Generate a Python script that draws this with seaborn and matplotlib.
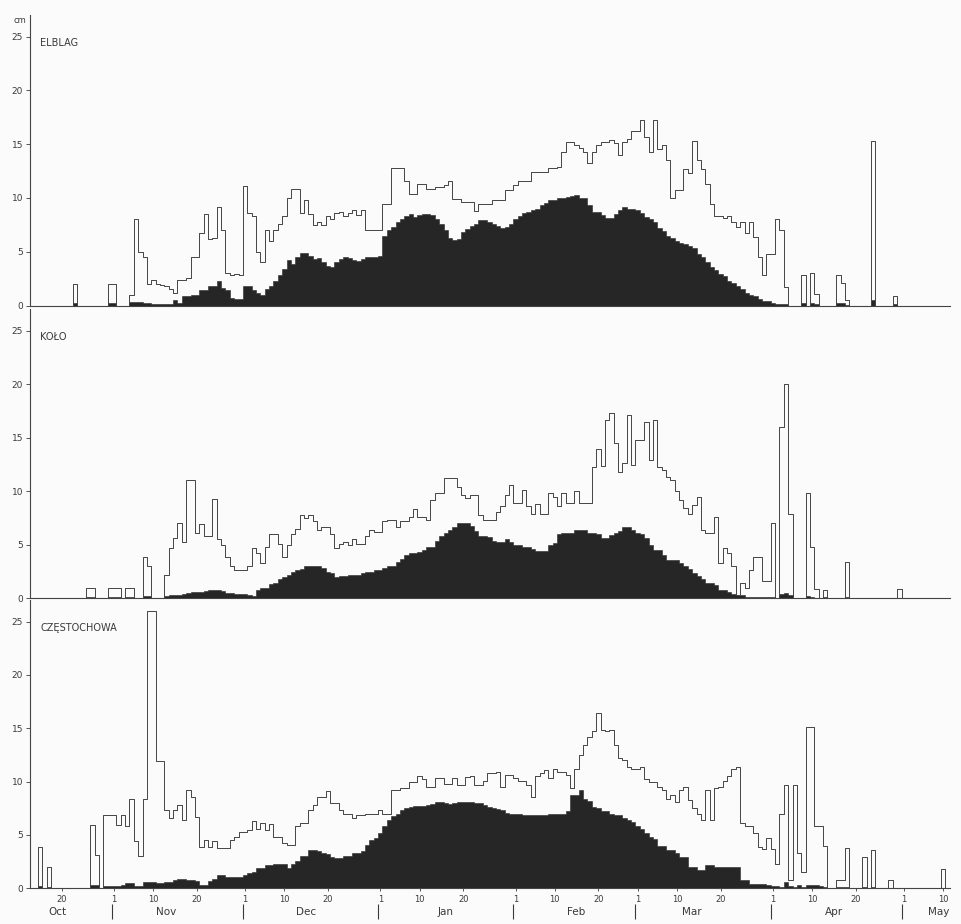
import numpy as np
import pandas as pd
import seaborn as sns
import matplotlib.pyplot as plt

sns.set_style("ticks")
plt.rcParams['font.family'] = ['DejaVu Sans']

# Day index: 0 = 1 October. Daily values from 13 Oct (12) to 11 May (222)
days = np.arange(12, 223)

stations = ["ELBLAG", "KOŁO", "CZĘSTOCHOWA"]

# Upper curve: mean thickness over days with snow cover (cm)
elblag_mean = [
    0, 0, 0, 0, 0, 0, 0, 0, 0, 0,
    2, 0, 0, 0, 0, 0, 0, 0, 2, 2,
    0, 0, 0, 1, 8, 5, 4.5, 2, 2.4, 2,
    1.9, 1.8, 1.5, 1.2, 2.4, 2.4, 2.6, 4.5, 4.5, 6.7,
    8.5, 6.2, 6.3, 9.2, 7, 3, 2.8, 2.9, 2.8, 11.1,
    8.6, 8.3, 5, 4, 7, 6, 7, 7.6, 8.3, 10,
    10.8, 10.8, 8.6, 9.8, 8.5, 7.5, 7.8, 7.5, 8.3, 8.0,
    8.6, 8.7, 8.3, 8.6, 8.9, 8.4, 8.9, 7.0, 7.0, 7.0,
    7.0, 9.4, 9.4, 12.8, 12.8, 12.8, 11.6, 10.4, 10.4, 11.3,
    11.3, 10.8, 10.8, 11.0, 11.0, 11.2, 11.6, 9.9, 9.9, 9.6,
    9.6, 9.6, 8.8, 9.4, 9.4, 9.4, 9.8, 9.8, 9.8, 10.7,
    10.7, 11.2, 11.6, 11.6, 11.6, 12.4, 12.4, 12.4, 12.4, 12.8,
    12.8, 12.9, 14.3, 15.2, 15.2, 14.9, 14.6, 14.3, 13.2, 14.3,
    14.9, 15.2, 15.2, 15.4, 15.1, 14.0, 15.2, 15.5, 16.2, 16.2,
    17.2, 15.7, 14.3, 17.2, 14.5, 14.9, 13.5, 10.0, 10.7, 10.7,
    12.7, 12.3, 15.3, 13.5, 12.7, 11.3, 9.4, 8.3, 8.3, 8.1,
    8.3, 7.8, 7.3, 7.8, 6.7, 7.8, 6.4, 4.5, 2.8, 4.8,
    4.8, 8.0, 7.0, 1.7, 0, 0, 0, 2.8, 0, 3.0,
    1.1, 0, 0, 0, 0, 2.8, 2.1, 0.5, 0, 0,
    0, 0, 0, 15.3, 0, 0, 0, 0, 0.9, 0,
    0, 0, 0, 0, 0, 0, 0, 0, 0, 0,
    0,
]
# Lower (black) curve: mean thickness over the whole period (cm)
elblag_all = [
    0, 0, 0, 0, 0, 0, 0, 0, 0, 0,
    0.2, 0, 0, 0, 0, 0, 0, 0, 0.2, 0.2,
    0, 0, 0, 0.3, 0.3, 0.3, 0.2, 0.2, 0.1, 0.1,
    0.1, 0.1, 0.1, 0.5, 0.2, 0.9, 0.9, 1.0, 1.0, 1.4,
    1.4, 1.8, 1.8, 2.3, 1.6, 1.4, 0.7, 0.6, 0.6, 1.8,
    1.8, 1.4, 1.2, 1.0, 1.5, 1.8, 2.3, 2.8, 3.4, 4.2,
    3.9, 4.5, 4.9, 4.9, 4.6, 4.3, 4.4, 4.0, 3.7, 3.6,
    4.0, 4.3, 4.5, 4.4, 4.2, 4.1, 4.3, 4.5, 4.5, 4.5,
    4.6, 6.5, 7.0, 7.3, 7.8, 8.0, 8.3, 8.5, 8.2, 8.4,
    8.5, 8.5, 8.4, 8.0, 7.6, 7.0, 6.3, 6.1, 6.2, 6.8,
    7.1, 7.4, 7.6, 7.9, 7.9, 7.8, 7.6, 7.4, 7.2, 7.3,
    7.6, 8.0, 8.3, 8.6, 8.7, 8.9, 9.0, 9.3, 9.5, 9.8,
    9.8, 10.0, 10.0, 10.1, 10.2, 10.3, 10.0, 10.0, 9.3, 8.7,
    8.7, 8.4, 8.1, 8.1, 8.5, 8.9, 9.2, 9.0, 9.0, 8.9,
    8.6, 8.2, 8.0, 7.8, 7.2, 6.9, 6.5, 6.3, 6.0, 5.8,
    5.7, 5.5, 5.3, 4.8, 4.5, 4.0, 3.6, 3.3, 2.9, 2.7,
    2.3, 2.1, 1.8, 1.5, 1.2, 1.0, 0.9, 0.6, 0.4, 0.4,
    0.2, 0.15, 0.1, 0.1, 0, 0, 0, 0.2, 0, 0.2,
    0.1, 0, 0, 0, 0, 0.2, 0.2, 0.05, 0, 0,
    0, 0, 0, 0.5, 0, 0, 0, 0, 0.1, 0,
    0, 0, 0, 0, 0, 0, 0, 0, 0, 0,
    0,
]

kolo_mean = [
    0, 0, 0, 0, 0, 0, 0, 0, 0, 0,
    0, 0, 0, 1, 1, 0, 0, 0, 1, 1,
    1, 0, 1, 1, 0, 0, 3.9, 3.0, 0, 0,
    0, 2.2, 4.7, 5.6, 7.0, 5.3, 11.1, 11.1, 6.1, 6.9,
    5.8, 5.8, 9.3, 5.5, 5.0, 3.9, 3.0, 2.6, 2.6, 2.6,
    3.0, 4.7, 4.2, 3.3, 4.8, 6.0, 6.0, 5.1, 3.9, 5.0,
    6.0, 6.5, 7.8, 7.5, 7.8, 7.2, 6.4, 6.7, 6.7, 6.0,
    4.7, 5.1, 5.3, 5.0, 5.5, 5.1, 5.1, 5.8, 6.4, 6.2,
    6.2, 7.2, 7.3, 7.3, 6.7, 7.2, 7.2, 7.6, 8.3, 7.6,
    7.6, 7.3, 9.2, 9.8, 9.8, 11.2, 11.2, 11.2, 10.4, 9.7,
    9.4, 9.7, 9.7, 7.8, 7.3, 7.3, 7.3, 8.1, 8.6, 9.7,
    10.6, 8.9, 8.9, 10.1, 8.6, 7.9, 8.8, 7.9, 7.9, 9.8,
    9.5, 8.6, 9.8, 8.9, 8.9, 10.0, 8.9, 8.9, 8.9, 12.3,
    14.0, 12.4, 16.7, 17.3, 14.5, 11.8, 12.6, 17.1, 12.5, 14.8,
    14.8, 16.5, 12.9, 16.7, 12.3, 12.0, 11.3, 11.1, 10.0, 9.2,
    8.4, 7.9, 8.7, 9.5, 6.4, 6.1, 6.1, 7.6, 3.3, 4.7,
    4.2, 3.0, 0.3, 1.4, 1.0, 2.6, 3.9, 3.9, 1.6, 1.6,
    7.0, 0, 16.0, 20.0, 7.9, 0, 0, 0, 9.8, 4.8,
    0.9, 0, 0.8, 0, 0, 0, 0, 3.4, 0, 0,
    0, 0, 0, 0, 0, 0, 0, 0, 0, 0.9,
    0, 0, 0, 0, 0, 0, 0, 0, 0, 0,
    0,
]
kolo_all = [
    0, 0, 0, 0, 0, 0, 0, 0, 0, 0,
    0, 0, 0, 0.1, 0.1, 0, 0, 0, 0.1, 0.1,
    0.1, 0, 0.1, 0.1, 0, 0, 0.2, 0.2, 0, 0,
    0, 0.2, 0.3, 0.3, 0.3, 0.4, 0.5, 0.6, 0.6, 0.6,
    0.7, 0.8, 0.8, 0.8, 0.7, 0.5, 0.5, 0.4, 0.4, 0.4,
    0.3, 0.2, 0.8, 1.0, 1.0, 1.3, 1.4, 1.8, 2.0, 2.2,
    2.5, 2.6, 2.7, 3.0, 3.0, 3.0, 3.0, 2.8, 2.5, 2.4,
    2.0, 2.1, 2.1, 2.2, 2.2, 2.2, 2.4, 2.5, 2.5, 2.6,
    2.6, 2.8, 3.0, 3.0, 3.4, 3.7, 4.0, 4.2, 4.2, 4.3,
    4.5, 4.8, 4.8, 5.4, 5.8, 6.1, 6.4, 6.7, 7.0, 7.0,
    7.0, 6.8, 6.3, 5.8, 5.8, 5.7, 5.4, 5.3, 5.3, 5.5,
    5.3, 5.0, 5.0, 4.8, 4.8, 4.6, 4.4, 4.4, 4.4, 5.0,
    5.2, 6.0, 6.1, 6.1, 6.1, 6.4, 6.4, 6.4, 6.1, 6.1,
    6.0, 5.6, 5.6, 5.9, 6.1, 6.3, 6.7, 6.7, 6.4, 6.1,
    6.0, 5.6, 5.0, 4.5, 4.5, 4.0, 3.6, 3.6, 3.6, 3.3,
    3.0, 2.7, 2.4, 2.1, 1.8, 1.4, 1.4, 1.2, 0.8, 0.8,
    0.6, 0.4, 0.3, 0.3, 0.15, 0.15, 0.15, 0.15, 0.15, 0.15,
    0.1, 0, 0.4, 0.5, 0.3, 0, 0, 0, 0.2, 0.1,
    0.05, 0, 0.1, 0, 0, 0, 0, 0.1, 0, 0,
    0, 0, 0, 0, 0, 0, 0, 0, 0, 0.05,
    0, 0, 0, 0, 0, 0, 0, 0, 0, 0,
    0,
]

czestochowa_mean = [
    0, 0, 3.9, 0, 2.0, 0, 0, 0, 0, 0,
    0, 0, 0, 0, 5.9, 3.1, 0, 6.9, 6.9, 6.9,
    5.9, 6.9, 5.8, 8.4, 4.4, 3.0, 8.4, 26.0, 26.0, 11.9,
    11.9, 7.3, 6.6, 7.3, 7.8, 6.4, 9.2, 8.6, 6.7, 3.9,
    4.5, 3.9, 4.4, 3.8, 3.8, 3.8, 4.5, 4.8, 5.3, 5.3,
    5.5, 6.3, 5.6, 6.1, 5.5, 6.0, 4.8, 4.8, 4.2, 4.1,
    4.1, 5.8, 6.1, 6.1, 7.3, 7.8, 8.6, 8.6, 9.1, 8.0,
    8.0, 7.3, 7.0, 7.0, 6.6, 6.9, 6.9, 7.0, 7.0, 7.0,
    7.3, 7.0, 7.0, 9.2, 9.2, 9.4, 9.4, 10.0, 10.0, 10.5,
    10.2, 9.5, 9.5, 10.3, 10.3, 9.8, 9.8, 10.3, 9.7, 9.7,
    10.4, 10.5, 9.7, 9.7, 10.1, 10.8, 10.8, 10.9, 9.5, 10.6,
    10.6, 10.3, 10.1, 10.1, 9.7, 8.6, 10.5, 10.8, 11.1, 10.3,
    11.2, 10.9, 10.9, 10.6, 9.4, 11.2, 12.5, 13.4, 14.2, 14.7,
    16.4, 14.8, 14.7, 14.8, 13.4, 12.2, 12.0, 11.4, 11.2, 11.2,
    11.4, 10.2, 10.0, 10.0, 9.5, 9.2, 8.4, 8.7, 8.1, 9.2,
    9.5, 8.3, 7.5, 7.0, 6.4, 9.2, 6.4, 9.4, 9.5, 10.1,
    10.5, 11.2, 11.4, 6.1, 5.8, 5.8, 5.2, 3.9, 3.7, 4.7,
    3.7, 2.3, 7.0, 9.7, 0.8, 9.7, 3.3, 1.5, 15.1, 15.1,
    5.8, 5.8, 4.0, 0, 0, 0.8, 0.8, 3.8, 0, 0,
    0, 2.9, 0, 3.6, 0, 0, 0, 0.8, 0, 0,
    0, 0, 0, 0, 0, 0, 0, 0, 0, 1.8,
    0,
]
czestochowa_all = [
    0, 0, 0.2, 0, 0.1, 0, 0, 0, 0, 0,
    0, 0, 0, 0, 0.3, 0.3, 0, 0.2, 0.2, 0.2,
    0.2, 0.3, 0.5, 0.5, 0.2, 0.2, 0.6, 0.6, 0.6, 0.5,
    0.5, 0.6, 0.6, 0.8, 0.9, 0.9, 0.8, 0.8, 0.7, 0.3,
    0.3, 0.7, 0.9, 1.2, 1.2, 1.1, 1.1, 1.1, 1.1, 1.2,
    1.4, 1.5, 1.9, 1.9, 2.2, 2.2, 2.3, 2.3, 2.3, 1.9,
    2.3, 2.6, 3.0, 3.0, 3.6, 3.6, 3.5, 3.3, 3.2, 2.9,
    2.8, 2.8, 3.0, 3.0, 3.3, 3.3, 3.5, 4.1, 4.5, 4.7,
    5.2, 5.8, 6.4, 6.8, 7.0, 7.3, 7.5, 7.6, 7.7, 7.7,
    7.7, 7.8, 7.9, 8.1, 8.1, 8.0, 7.9, 8.0, 8.1, 8.1,
    8.1, 8.1, 8.0, 8.0, 7.8, 7.6, 7.5, 7.4, 7.3, 7.1,
    7.0, 7.0, 7.0, 6.9, 6.9, 6.9, 6.9, 6.9, 6.9, 7.0,
    7.0, 7.0, 7.0, 7.2, 8.7, 8.7, 9.2, 8.4, 8.2, 7.6,
    7.5, 7.2, 7.2, 7.0, 6.9, 6.9, 6.6, 6.4, 6.2, 5.8,
    5.6, 5.2, 4.8, 4.6, 4.0, 4.0, 3.6, 3.6, 3.3, 2.9,
    2.9, 2.0, 2.0, 1.7, 1.7, 2.2, 2.2, 2.0, 2.0, 2.0,
    2.0, 2.0, 2.0, 0.8, 0.8, 0.4, 0.4, 0.4, 0.4, 0.3,
    0.2, 0.2, 0.1, 0.6, 0.2, 0.1, 0.3, 0.1, 0.3, 0.3,
    0.3, 0.2, 0.1, 0, 0, 0.1, 0.1, 0.1, 0, 0,
    0, 0.1, 0, 0.1, 0, 0, 0, 0.05, 0, 0,
    0, 0, 0, 0, 0, 0, 0, 0, 0, 0.05,
    0,
]

# Bottom axis: day ticks and month names
tick_days = [19, 31, 40, 50, 61, 70, 80, 92, 101, 111, 123, 132, 142,
             151, 160, 170, 182, 191, 201, 212, 221]
tick_labels = ['20', '1', '10', '20', '1', '10', '20', '1', '10', '20', '1',
               '10', '20', '1', '10', '20', '1', '10', '20', '1', '10']
month_names = ['Oct', 'Nov', 'Dec', 'Jan', 'Feb', 'Mar', 'Apr', 'May']
month_starts = [31, 61, 92, 123, 151, 182, 212]

# Layout (pixel based, figure is 961 x 924)
W, H = 961, 924
LEFT, RIGHT = 30, 950
PANEL_ZERO = [305.5, 598.3, 888.3]
PANEL_SCALE = [10.76, 10.70, 10.67]
YTOP = 27
MONTH_LABEL_X = [18, 43, 75, 107, 137, 163.5, 196, 220]
FILL = '#262626'
LINE = '#444444'
TEXT = '#3a3a3a'
PAGE = '#fbfbfb'

series = [(elblag_mean, elblag_all), (kolo_mean, kolo_all),
          (czestochowa_mean, czestochowa_all)]

fig = plt.figure(figsize=(W / 100, H / 100), dpi=100, facecolor=PAGE)

for i, (name, (upper, lower)) in enumerate(zip(stations, series)):
    assert len(upper) == len(days) and len(lower) == len(days)
    height_px = YTOP * PANEL_SCALE[i]
    rect = [LEFT / W, 1 - PANEL_ZERO[i] / H, (RIGHT - LEFT) / W, height_px / H]
    ax = fig.add_axes(rect)
    ax.set_facecolor('none')
    df = pd.DataFrame({'day': days, 'mean': upper, 'all': lower})
    sns.histplot(df, x='day', weights='all', discrete=True, element='step',
                 fill=True, color=FILL, alpha=1, linewidth=0.4, ax=ax)
    sns.histplot(df, x='day', weights='mean', discrete=True, element='step',
                 fill=False, color=LINE, linewidth=0.7, ax=ax)
    ax.set_xlim(11.7, 222.6)
    ax.set_ylim(0, YTOP)
    ax.set_xlabel('')
    ax.set_ylabel('')
    sns.despine(ax=ax)
    for side in ['left', 'bottom']:
        ax.spines[side].set_linewidth(0.8)
        ax.spines[side].set_color('#444444')
    ax.set_yticks([0, 5, 10, 15, 20, 25])
    ax.tick_params(axis='y', length=3, width=0.6, pad=2, labelsize=6.5,
                   colors=TEXT)
    ax.text(14, 24.4, name, fontsize=7, va='center', ha='left', color=TEXT)
    if i == 0:
        ax.text(9.4, 26.5, 'cm', fontsize=6, ha='center', va='center',
                color=TEXT, clip_on=False)
    if i < 2:
        ax.set_xticks([])
    else:
        ax.set_xticks(tick_days)
        ax.set_xticklabels(tick_labels)
        ax.tick_params(axis='x', length=2, width=0.6, pad=3, labelsize=6,
                       colors=TEXT)
        trans = ax.get_xaxis_transform()
        for x, m in zip(MONTH_LABEL_X, month_names):
            ax.text(x, -0.083, m, transform=trans, ha='center', va='center',
                    fontsize=7.5, color=TEXT, clip_on=False)
        ax.vlines([d - 0.5 for d in month_starts], -0.105, -0.055,
                  transform=trans, color=TEXT, lw=0.8, clip_on=False)

plt.savefig('out.png', dpi=100, facecolor=PAGE)
